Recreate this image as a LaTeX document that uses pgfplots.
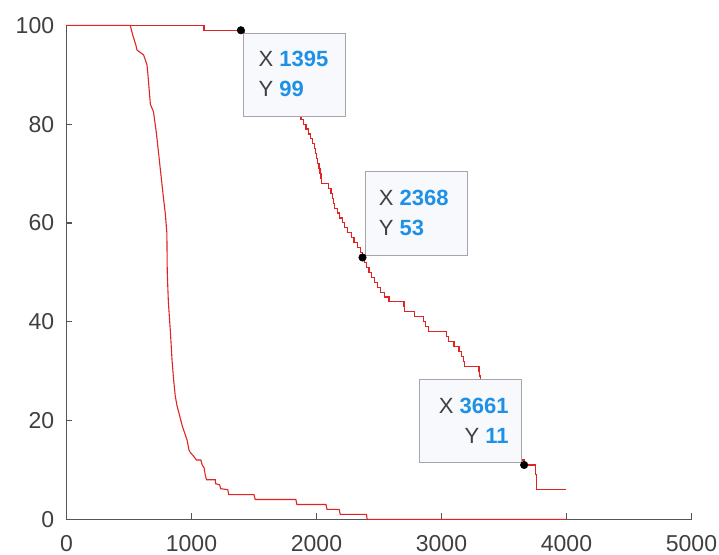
\documentclass[border=0pt]{standalone}
\usepackage{fontspec}
\setmainfont{Liberation Sans}
\usepackage{pgfplots}
\pgfplotsset{compat=1.18}
\definecolor{axisgray}{RGB}{85,85,85}
\definecolor{labelgray}{RGB}{64,64,64}
\definecolor{tipblue}{RGB}{30,145,230}
\definecolor{tipfill}{RGB}{248,249,252}
\definecolor{tipborder}{RGB}{165,165,172}
\definecolor{curvered}{RGB}{225,35,35}
\begin{document}
\begin{tikzpicture}[
  tip/.style={draw=tipborder, fill=tipfill, line width=0.5pt, minimum width=51pt, minimum height=41.7pt, inner sep=0pt},
  tiptext/.style={inner sep=0pt, font=\fontsize{11}{13}\selectfont, text=labelgray}
]
\begin{axis}[
  scale only axis, width=312.5pt, height=247pt,
  xmin=0, xmax=5000, ymin=0, ymax=100,
  axis lines=left, axis line style={-, color=axisgray, line width=0.6pt},
  xtick={0,1000,2000,3000,4000,5000},
  ytick={0,20,40,60,80,100},
  tick align=inside, major tick length=3pt,
  tick style={color=axisgray, line width=0.6pt},
  scaled x ticks=false,
  /pgf/number format/1000 sep={},
  /pgf/number format/assume math mode=true,
  ticklabel style={font=\fontsize{11.5}{13}\selectfont, text=labelgray},
  yticklabel style={anchor=east, inner sep=0pt, xshift=-6pt},
  xticklabel style={anchor=north, inner sep=0pt, yshift=-8pt},
  clip=false,
]
\coordinate (O) at (axis cs:0,0);
% left (steep) curve
\addplot[curvered, line width=0.55pt] coordinates {
 (0,100) (510,100) (530,98) (555,96) (564,95) (617,94) (644,92) (655,89)
 (671,84) (696,82.5) (720,78) (750,71) (776,65) (790,62) (803,58) (806,50)
 (815,44) (831,38) (845,32) (858,28) (870,25) (884,23) (905,21) (925,19)
 (945,17.5) (965,16) (980,14) (991,13.5) (1010,13) (1040,12) (1075,12)
 (1085,11) (1100,10.5) (1110,9) (1120,8) (1190,8) (1193,7.2) (1225,7)
 (1233,6.2) (1290,6) (1298,5) (1500,5) (1510,4) (1835,4) (1843,3) (2076,3)
 (2084,2) (2181,2) (2190,1) (2400,1) (2405,0) (4000,0)
};
% right (staircase) curve
\addplot[curvered, line width=0.55pt, const plot] coordinates {
 (0,100) (1100,99) (1420,98) (1460,97) (1500,96) (1540,95) (1580,94)
 (1620,93) (1650,92) (1680,91) (1710,90) (1740,89) (1760,88) (1780,87)
 (1800,86) (1820,85) (1835,84) (1850,83) (1862,82) (1876,81) (1895,80)
 (1916,79) (1935,78) (1950,77) (1965,76) (1982,75) (1990,74) (2000,73)
 (2010,72) (2020,71) (2028,70) (2036,69) (2040,68) (2095,67) (2116,66)
 (2128,65) (2136,64) (2143,63) (2165,62) (2183,61) (2205,60) (2223,59)
 (2250,58) (2277,57) (2300,56) (2330,55) (2350,54) (2368,53) (2385,52)
 (2400,51) (2420,50) (2440,49) (2464,48) (2490,47) (2510,46) (2545,45)
 (2580,44) (2700,43) (2705,42) (2786,41) (2853,40) (2875,39) (2893,38)
 (3040,37) (3054,36) (3100,35) (3140,34) (3160,33) (3175,32) (3187,31)
 (3300,30) (3307,29) (3313,28) (3340,27) (3360,26) (3380,25) (3400,24)
 (3420,23) (3440,22) (3460,21) (3480,20) (3500,19) (3520,18) (3540,17)
 (3560,16) (3580,15) (3600,14) (3620,13) (3640,12) (3661,11) (3749,10)
 (3755,9) (3758,8) (3760,7) (3763,6) (4000,6)
};
% data tips
\node[tip, anchor=north west, xshift=1.15pt, yshift=-1.15pt] (b1) at (axis cs:1395,99) {};
\node[tiptext, anchor=base west] at ([xshift=7.5pt,yshift=-17pt]b1.north west) {X \textbf{\color{tipblue}1395}};
\node[tiptext, anchor=base west] at ([xshift=7.5pt,yshift=-32pt]b1.north west) {Y \textbf{\color{tipblue}99}};
\node[tip, anchor=south west, xshift=1.15pt, yshift=0.9pt] (b2) at (axis cs:2368,53) {};
\node[tiptext, anchor=base west] at ([xshift=6.8pt,yshift=-17pt]b2.north west) {X \textbf{\color{tipblue}2368}};
\node[tiptext, anchor=base west] at ([xshift=6.8pt,yshift=-32pt]b2.north west) {Y \textbf{\color{tipblue}53}};
\node[tip, anchor=south east, xshift=-0.85pt, yshift=0.85pt] (b3) at (axis cs:3661,11) {};
\node[tiptext, anchor=base east] at ([xshift=-6.7pt,yshift=-17.5pt]b3.north east) {X \textbf{\color{tipblue}3661}};
\node[tiptext, anchor=base east] at ([xshift=-6.7pt,yshift=-32.5pt]b3.north east) {Y \textbf{\color{tipblue}11}};
\addplot[only marks, mark=*, mark size=1.8pt, black] coordinates {(1395,99) (2368,53) (3661,11)};
\end{axis}
\pgfresetboundingbox
\path[use as bounding box] ([xshift=-33.25pt,yshift=-17.35pt]O) rectangle ([xshift=326.25pt,yshift=259.65pt]O);
\end{tikzpicture}
\end{document}
